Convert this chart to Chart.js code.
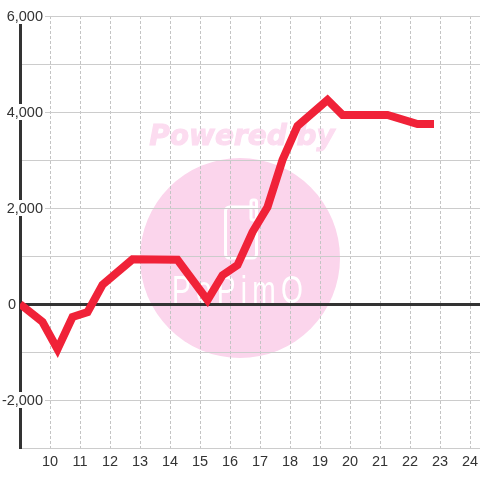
<!DOCTYPE html>
<html>
<head>
<meta charset="utf-8">
<style>
  html, body { margin: 0; padding: 0; background: #fff; }
  canvas { display: block; }
</style>
<script src="https://cdn.jsdelivr.net/npm/chart.js@4"></script>
</head>
<body>
<canvas id="chart" width="480" height="480"></canvas>
<script>
const hours = [9, 9.75, 10.25, 10.75, 11.25, 11.75, 12.75, 14.25, 15.25, 15.75, 16.25, 16.75, 17.25, 17.75, 18.25, 19.25, 19.75, 21.25, 22.25, 22.8];
const values = [0, -375, -940, -270, -170, 400, 930, 920, 80, 600, 810, 1500, 2020, 3000, 3710, 4250, 3940, 3940, 3750, 3750];
const xTickValues = [10, 11, 12, 13, 14, 15, 16, 17, 18, 19, 20, 21, 22, 23, 24];
const yTickValues = [6000, 4000, 2000, 0, -2000];
const yTickLabels = ['6,000', '4,000', '2,000', '0', '-2,000'];

const labelFont = '14.5px "Liberation Sans"';
const pink = '#fbd5ec';

// logo sits under the grid
const watermark = {
    id: 'watermark',
    beforeDraw(chart) {
        const ctx = chart.ctx;
        ctx.save();
        ctx.fillStyle = '#fcdcf0';
        ctx.strokeStyle = '#fcdcf0';
        ctx.lineWidth = 1;
        ctx.font = 'italic bold 28px "DejaVu Sans"';
        ctx.textAlign = 'center';
        ctx.textBaseline = 'alphabetic';
        ctx.fillText('Powered by', 242, 145);
        ctx.strokeText('Powered by', 242, 145);

        ctx.fillStyle = pink;
        ctx.beginPath();
        ctx.arc(240, 258, 100, 0, Math.PI * 2);
        ctx.fill();

        ctx.strokeStyle = '#fff';
        ctx.lineWidth = 3;
        ctx.beginPath();
        ctx.roundRect(225.5, 207, 31, 51, 4);
        ctx.stroke();
        ctx.beginPath();
        ctx.roundRect(251, 200, 5.5, 20, 2);
        ctx.stroke();

        ctx.fillStyle = '#fff';
        ctx.font = '38px "Liberation Sans"';
        ctx.letterSpacing = '7px';
        ctx.textAlign = 'left';
        ctx.fillText('PoPimO', 172, 303, 136);
        ctx.restore();
    }
};

// y labels sit over the axis on a white patch, "0" stays left of it
const yLabels = {
    id: 'yLabels',
    beforeDatasetsDraw(chart) {
        const ctx = chart.ctx;
        const y = chart.scales.y;
        ctx.save();
        ctx.font = labelFont;
        ctx.textAlign = 'right';
        ctx.textBaseline = 'middle';
        yTickValues.forEach((v, i) => {
            const py = y.getPixelForValue(v);
            const right = v === 0 ? 16 : 43;
            if (v !== 0) {
                const w = ctx.measureText(yTickLabels[i]).width;
                ctx.fillStyle = '#fff';
                ctx.fillRect(right - w - 1, py - 8, w + 3, 16);
            }
            ctx.fillStyle = '#333';
            ctx.fillText(yTickLabels[i], right, py + 1);
        });
        ctx.restore();
    }
};

new Chart(document.getElementById('chart').getContext('2d'), {
    type: 'line',
    data: {
        datasets: [{
            data: hours.map((h, i) => ({ x: h, y: values[i] })),
            borderColor: '#f02238',
            borderWidth: 8,
            borderJoinStyle: 'miter',
            borderCapStyle: 'butt',
            pointRadius: 0,
            tension: 0
        }]
    },
    options: {
        responsive: false,
        animation: false,
        devicePixelRatio: 1,
        layout: { padding: { top: 16, right: 0, bottom: 0, left: 0 } },
        plugins: { legend: { display: false }, tooltip: { enabled: false } },
        scales: {
            x: {
                type: 'linear',
                min: 9,
                max: 24.3333,
                afterBuildTicks(scale) {
                    scale.ticks = xTickValues.map(v => ({ value: v }));
                },
                afterFit(scale) {
                    scale.height = 32;
                    scale.paddingLeft = 0;
                    scale.paddingRight = 0;
                },
                grid: { color: '#c4c4c4', lineWidth: 1, drawTicks: false },
                border: { display: false, dash: [3, 2] },
                ticks: {
                    color: '#333',
                    font: { family: 'Liberation Sans', size: 14.5 },
                    padding: 5,
                    maxRotation: 0,
                    autoSkip: false,
                    callback: v => String(v)
                }
            },
            y: {
                min: -3000,
                max: 6000,
                afterFit(scale) { scale.width = 20; },
                grid: {
                    drawTicks: false,
                    color: ctx => ctx.tick.value === 0 ? '#333' : '#ccc',
                    lineWidth: ctx => ctx.tick.value === 0 ? 3 : 1
                },
                border: { color: '#333', width: 3 },
                ticks: { stepSize: 1000, display: false }
            }
        }
    },
    plugins: [watermark, yLabels]
});
</script>
</body>
</html>
